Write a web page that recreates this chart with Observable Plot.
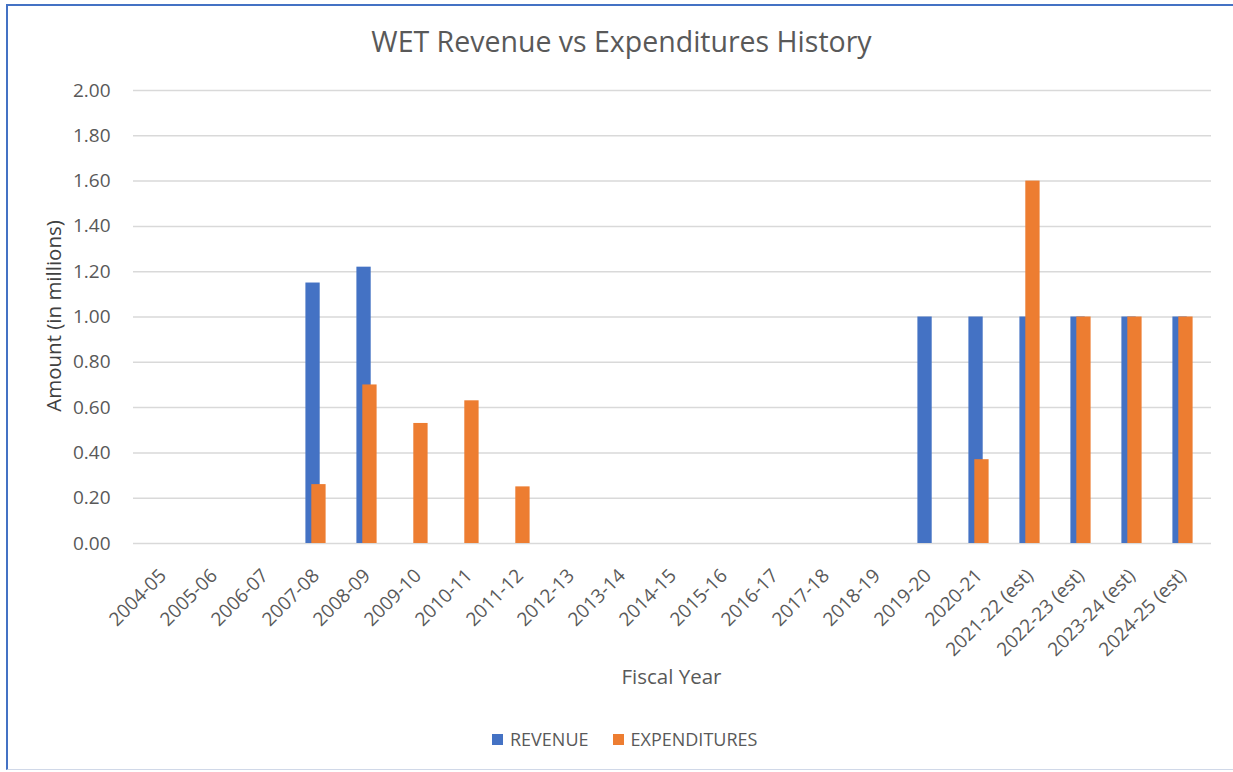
<!DOCTYPE html>
<html>
<head>
<meta charset="utf-8">
<script src="https://cdn.jsdelivr.net/npm/d3@7"></script>
<script src="https://cdn.jsdelivr.net/npm/@observablehq/plot@0.6"></script>
<style>
  html, body { margin: 0; padding: 0; background: #fff; }
  body { width: 1233px; height: 772px; overflow: hidden; position: relative; font-family: "Open Sans", "Noto Sans", sans-serif; color: #595959; }
  #frame { position: absolute; left: 6px; top: 4px; width: 1240px; height: 766px; border-left: 2px solid #4472c4; border-top: 2px solid #4472c4; border-bottom: 1px solid #d0d8e8; box-sizing: border-box; }
  #chart { position: absolute; left: 0; top: 0; }
  .title { position: absolute; left: 0; width: 1243px; top: 22px; text-align: center; font-size: 28.5px; color: #595959; }
  .xlabel { position: absolute; left: 0; width: 1343px; top: 662px; text-align: center; font-size: 20.5px; color: #595959; }
  .ylabel { position: absolute; left: 53px; top: 316px; transform: translate(-50%, -50%) rotate(-90deg); font-size: 20.5px; color: #404040; white-space: nowrap; }
  .legend { position: absolute; top: 727px; left: 492px; display: flex; align-items: center; font-size: 18px; color: #595959; }
  .legend .sw { width: 11px; height: 11px; display: inline-block; margin-right: 7px; }
  .legend .item { display: flex; align-items: center; margin-right: 24px; }
</style>
</head>
<body>
<div id="frame"></div>
<div id="chart"></div>
<div class="title">WET Revenue vs Expenditures History</div>
<div class="ylabel">Amount (in millions)</div>
<div class="xlabel">Fiscal Year</div>
<div class="legend">
  <span class="item"><span class="sw" style="background:#4472c4"></span>REVENUE</span>
  <span class="item"><span class="sw" style="background:#ed7d31"></span>EXPENDITURES</span>
</div>
<script>
const years = ["2004-05","2005-06","2006-07","2007-08","2008-09","2009-10","2010-11","2011-12","2012-13","2013-14","2014-15","2015-16","2016-17","2017-18","2018-19","2019-20","2020-21","2021-22 (est)","2022-23 (est)","2023-24 (est)","2024-25 (est)"];
const revenue =      [0,0,0,1.15,1.22,0,0,0,0,0,0,0,0,0,0,1.00,1.00,1.00,1.00,1.00,1.00];
const expenditures = [0,0,0,0.26,0.70,0.53,0.63,0.25,0,0,0,0,0,0,0,0,0.37,1.60,1.00,1.00,1.00];
const yTicks = [0,0.2,0.4,0.6,0.8,1.0,1.2,1.4,1.6,1.8,2.0];

const rev = years.map((y, i) => ({year: y, value: revenue[i]})).filter(d => d.value > 0);
const exp = years.map((y, i) => ({year: y, value: expenditures[i]})).filter(d => d.value > 0);

const chart = Plot.plot({
  width: 1233,
  height: 772,
  marginLeft: 133,
  marginRight: 22,
  marginTop: 90,
  marginBottom: 229,
  style: { fontFamily: "'Open Sans', 'Noto Sans', sans-serif", background: "transparent", color: "#595959" },
  x: { type: "band", domain: years, padding: 0, label: null },
  y: { domain: [0, 2], label: null },
  marks: [
    Plot.ruleY(yTicks, { stroke: "#d9d9d9", strokeWidth: 1.5 }),
    Plot.barY(rev, { x: "year", y: "value", fill: "#4472c4", insetLeft: 15.4, insetRight: 21.3 }),
    Plot.barY(exp, { x: "year", y: "value", fill: "#ed7d31", insetLeft: 21.3, insetRight: 15.4 }),
    Plot.axisY({ ticks: yTicks, tickFormat: d3.format(".2f"), tickSize: 0, tickPadding: 23, fontSize: 19, fill: "#595959", label: null }),
    Plot.axisX({ tickRotate: -45, tickSize: 0, tickPadding: 29, dx: 0, fontSize: 19, fill: "#595959", label: null })
  ]
});
document.getElementById("chart").appendChild(chart);
</script>
</body>
</html>
